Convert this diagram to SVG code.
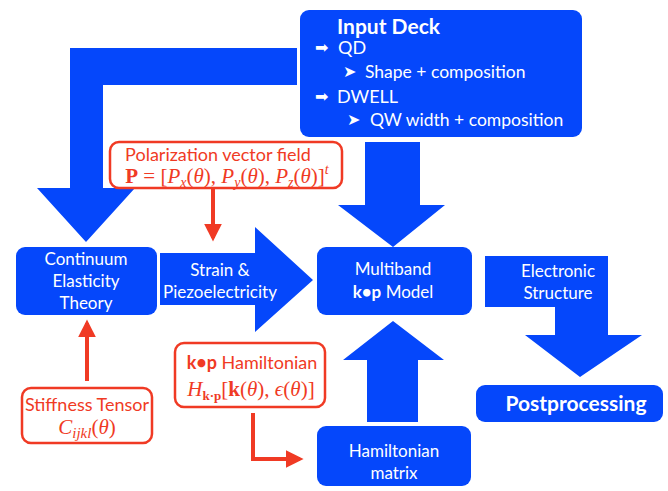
<svg xmlns="http://www.w3.org/2000/svg" width="668" height="491" viewBox="0 0 668 491">
<defs>
<style>
.blue{fill:#0547fb}
.box{fill:#0547fb}
.rbox{fill:#fff;stroke:#f03a24;stroke-width:2.5}
.t{font-family:Lato,"Open Sans","Liberation Sans",sans-serif;fill:#fff;font-size:17px}
.tc{text-anchor:middle}
.b{font-weight:bold}
.r{font-family:Lato,"Open Sans","Liberation Sans",sans-serif;fill:#f03a24;font-size:18px;text-anchor:middle}
.m{font-family:"Liberation Serif","DejaVu Serif",serif;fill:#f03a24;font-size:21px;text-anchor:middle}
.sym{font-family:"DejaVu Sans",sans-serif;fill:#fff;font-size:16px}
.rl{fill:none;stroke:#f03a24;stroke-width:4}
</style>
<marker id="rh" viewBox="0 0 10 10" refX="8" refY="5" markerWidth="4.5" markerHeight="4.5" orient="auto" markerUnits="strokeWidth">
<path d="M0,0 L10,5 L0,10 z" fill="#f03a24"/>
</marker>
</defs>

<g id="connectors">
<path id="arrow-input-to-continuum" class="blue" d="M70,48 H297 V85 H103 V188 H135 L86,242 L37,188 H70 Z"/>
<path id="arrow-input-to-multiband" class="blue" d="M365,142 H420 V205 H445 L393,247 L338,205 H365 Z"/>
<path id="arrow-strain" class="blue" d="M160,253 H255 V227 L313,280 L255,332 V305 H160 Z"/>
<path id="arrow-hamiltonian-up" class="blue" d="M367,422 V360 H343 L393,321 L444,360 H418 V422 Z"/>
<path id="arrow-electronic" class="blue" d="M485,256 H608 V335 H642 L580,377 L525,335 H555 V307 H485 Z"/>
<line class="rl" x1="213" y1="189" x2="213" y2="238" marker-end="url(#rh)"/>
<line class="rl" x1="87" y1="381" x2="87" y2="323" marker-end="url(#rh)"/>
<path class="rl" d="M253,413 V459 H300" marker-end="url(#rh)"/>
</g>

<g id="input-deck">
<rect class="box" x="300" y="10" width="282" height="127" rx="9"/>
<text class="t b" x="337" y="34" style="font-size:21px">Input Deck</text>
<text class="sym" x="315" y="53">➡</text>
<text class="t" x="338" y="54" style="font-size:18px">QD</text>
<text class="sym" x="343" y="77">➤</text>
<text class="t" x="365" y="78" style="font-size:17.5px">Shape + composition</text>
<text class="sym" x="315" y="102">➡</text>
<text class="t" x="337" y="103" style="font-size:18px">DWELL</text>
<text class="sym" x="347" y="125">➤</text>
<text class="t" x="370" y="126" style="font-size:17.5px">QW width + composition</text>
</g>

<g id="continuum">
<rect class="box" x="16" y="247" width="141" height="68" rx="9"/>
<text class="t tc" x="86" y="265">Continuum</text>
<text class="t tc" x="86" y="287">Elasticity</text>
<text class="t tc" x="86" y="309">Theory</text>
</g>

<g id="strain">
<text class="t tc" x="220" y="276">Strain &amp;</text>
<text class="t tc" x="220" y="298">Piezoelectricity</text>
</g>

<g id="multiband">
<rect class="box" x="317" y="247" width="155" height="68" rx="9"/>
<text class="t tc" x="393" y="275">Multiband</text>
<text class="t tc" x="393" y="298"><tspan class="b">k•p</tspan> Model</text>
</g>

<g id="electronic">
<text class="t tc" x="558" y="277">Electronic</text>
<text class="t tc" x="558" y="299">Structure</text>
</g>

<g id="postprocessing">
<rect class="box" x="476" y="385" width="187" height="37" rx="9"/>
<text class="t tc b" x="576" y="411" style="font-size:21px">Postprocessing</text>
</g>

<g id="hamiltonian-matrix">
<rect class="box" x="317" y="426" width="154" height="60" rx="9"/>
<text class="t tc" x="394" y="457">Hamiltonian</text>
<text class="t tc" x="394" y="479">matrix</text>
</g>

<g id="polarization">
<rect class="rbox" x="110" y="142" width="232" height="46" rx="9"/>
<text class="r" x="218" y="161">Polarization vector field</text>
<text class="m" x="227" y="183"><tspan font-weight="bold">P</tspan> = [<tspan font-style="italic">P</tspan><tspan font-style="italic" font-size="14" dy="4">x</tspan><tspan dy="-4">(</tspan><tspan font-style="italic">θ</tspan>), <tspan font-style="italic">P</tspan><tspan font-style="italic" font-size="14" dy="4">y</tspan><tspan dy="-4">(</tspan><tspan font-style="italic">θ</tspan>), <tspan font-style="italic">P</tspan><tspan font-style="italic" font-size="14" dy="4">z</tspan><tspan dy="-4">(</tspan><tspan font-style="italic">θ</tspan>)]<tspan font-style="italic" font-size="14" dy="-9">t</tspan></text>
</g>

<g id="stiffness">
<rect class="rbox" x="22" y="388" width="130" height="55" rx="9"/>
<text class="r" x="87" y="411">Stiffness Tensor</text>
<text class="m" x="87" y="434"><tspan font-style="italic">C</tspan><tspan font-style="italic" font-size="15" dy="4">ijkl</tspan><tspan dy="-4">(</tspan><tspan font-style="italic">θ</tspan>)</text>
</g>

<g id="kp-hamiltonian">
<rect class="rbox" x="175" y="343" width="150" height="64" rx="9"/>
<text class="r" x="252" y="369"><tspan font-weight="bold">k•p</tspan> Hamiltonian</text>
<text class="m" x="251" y="396"><tspan font-style="italic">H</tspan><tspan font-weight="bold" font-size="13" dy="4">k·p</tspan><tspan dy="-4">[</tspan><tspan font-weight="bold">k</tspan>(<tspan font-style="italic">θ</tspan>), <tspan font-style="italic">ϵ</tspan>(<tspan font-style="italic">θ</tspan>)]</text>
</g>
</svg>
